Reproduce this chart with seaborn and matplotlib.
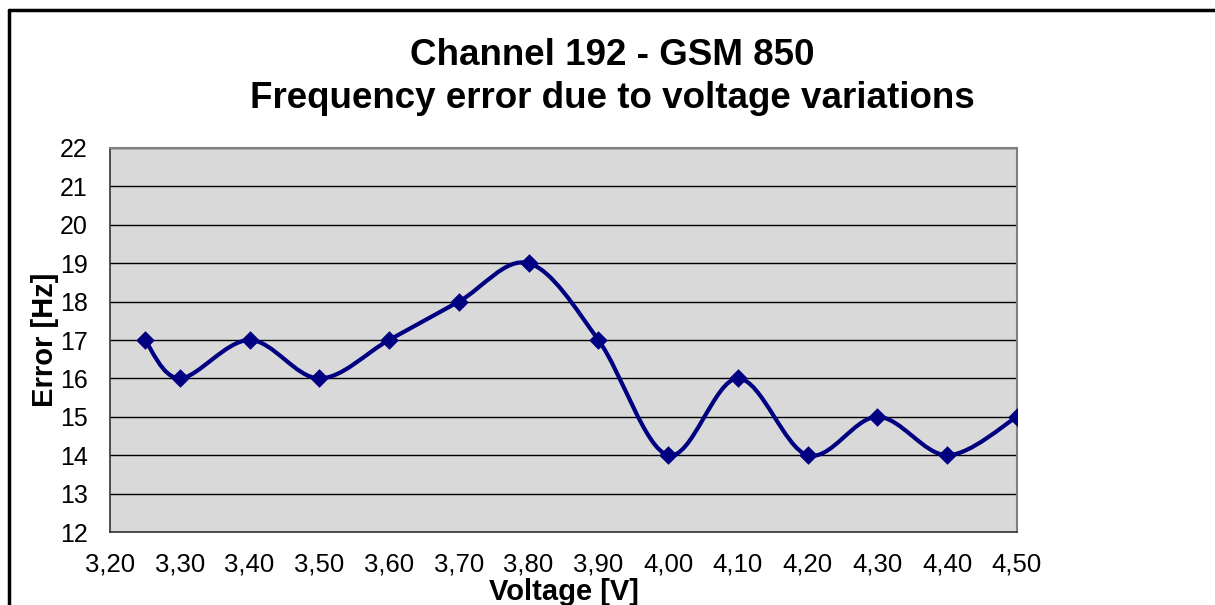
import numpy as np
import pandas as pd
import matplotlib
matplotlib.use("Agg")
import matplotlib.pyplot as plt
from matplotlib.path import Path
from matplotlib.patches import PathPatch
import seaborn as sns

# data
voltage = [3.25, 3.30, 3.40, 3.50, 3.60, 3.70, 3.80, 3.90, 4.00, 4.10, 4.20, 4.30, 4.40, 4.50]
error_hz = [17, 16, 17, 16, 17, 18, 19, 17, 14, 16, 14, 15, 14, 15]
x_ticks = [3.20, 3.30, 3.40, 3.50, 3.60, 3.70, 3.80, 3.90, 4.00, 4.10, 4.20, 4.30, 4.40, 4.50]
x_labels = ["3,20", "3,30", "3,40", "3,50", "3,60", "3,70", "3,80", "3,90",
            "4,00", "4,10", "4,20", "4,30", "4,40", "4,50"]
y_ticks = list(range(12, 23))

df = pd.DataFrame({"Voltage": voltage, "Error": error_hz})

sns.set_style("white")
plt.rcParams["font.family"] = ["Liberation Sans", "DejaVu Sans"]
plt.rcParams["text.color"] = "black"
plt.rcParams["axes.labelcolor"] = "black"

fig = plt.figure(figsize=(12.15, 6.05), dpi=100)
ax = fig.add_axes([110 / 1215, 1 - 532 / 605, (1017 - 110) / 1215, (532 - 148) / 605])
ax.set_facecolor("#d9d9d9")

line_col = "#000080"


def smooth_path(xs, ys, k=1 / 6):
    # Excel style smoothed line: cubic bezier segments through the points
    pts = np.column_stack([xs, ys]).astype(float)
    n = len(pts)
    verts = [pts[0]]
    codes = [Path.MOVETO]
    for i in range(n - 1):
        p0 = pts[i - 1] if i > 0 else pts[i]
        p1 = pts[i]
        p2 = pts[i + 1]
        p3 = pts[i + 2] if i + 2 < n else pts[i + 1]
        c1 = p1 + (p2 - p0) * k
        c2 = p2 - (p3 - p1) * k
        verts += [c1, c2, p2]
        codes += [Path.CURVE4] * 3
    return Path(verts, codes)


patch = PathPatch(smooth_path(voltage, error_hz), facecolor="none", edgecolor=line_col,
                  linewidth=3, capstyle="round", joinstyle="round", zorder=3)
ax.add_patch(patch)

sns.scatterplot(data=df, x="Voltage", y="Error", marker="D", s=90, color=line_col,
                edgecolor=line_col, linewidth=0, ax=ax, zorder=4, legend=False)

ax.set_xlim(3.20, 4.50)
ax.set_ylim(12, 22)
ax.set_xticks(x_ticks)
ax.set_xticklabels(x_labels)
ax.set_yticks(y_ticks)
ax.yaxis.grid(True, color="black", linewidth=1)
ax.set_axisbelow(True)

ax.tick_params(axis="both", direction="out", length=7, width=1, color="#333333",
               labelsize=18, labelcolor="black")
ax.tick_params(axis="y", pad=9)
ax.tick_params(axis="x", pad=8, labelsize=18.5)

for side in ["left", "bottom"]:
    ax.spines[side].set_color("#333333")
    ax.spines[side].set_linewidth(1.2)
for side in ["top", "right"]:
    ax.spines[side].set_color("#808080")
    ax.spines[side].set_linewidth(1.5)

ax.set_xlabel("Voltage [V]", fontsize=21, fontweight="bold", labelpad=1)
ax.set_ylabel("Error [Hz]", fontsize=21, fontweight="bold", labelpad=1)

fig.text(0.504, 1 - 65 / 605, "Channel 192 - GSM 850", ha="center", va="baseline",
         fontsize=26.5, fontweight="bold")
fig.text(0.504, 1 - 108 / 605, "Frequency error due to voltage variations", ha="center",
         va="baseline", fontsize=26.5, fontweight="bold")

# outer chart border (cropped in the original)
fig.add_artist(plt.Line2D([9 / 1215, 9 / 1215], [0, 1 - 10 / 605], color="black",
                          linewidth=2.5, transform=fig.transFigure))
fig.add_artist(plt.Line2D([9 / 1215, 1], [1 - 10 / 605, 1 - 10 / 605], color="black",
                          linewidth=2.5, transform=fig.transFigure))

fig.savefig("out.png", dpi=100)
